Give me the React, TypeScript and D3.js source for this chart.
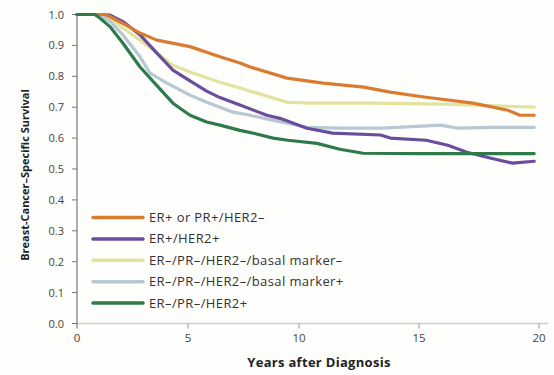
import React from "react";
import * as d3 from "d3";

type Pt = [number, number];

const seriesNames = [
  "ER+ or PR+/HER2–",
  "ER+/HER2+",
  "ER–/PR–/HER2–/basal marker–",
  "ER–/PR–/HER2–/basal marker+",
  "ER–/PR–/HER2+",
];
const seriesColors = ["#d97b30", "#6b4d9e", "#e2e39c", "#b7c7d3", "#2f7a4a"];

const orange: Pt[] = [[0,1],[1.3,1],[2.07,0.971],[2.84,0.94],[3.6,0.917],[5.09,0.896],[6.44,0.863],[7.34,0.843],[7.8,0.83],[9.46,0.794],[11,0.778],[12.7,0.765],[13.8,0.749],[15.2,0.733],[17.25,0.713],[18.7,0.69],[19.2,0.674],[19.8,0.674]];
const purple: Pt[] = [[0,1],[1.2,1],[1.49,0.998],[2.07,0.977],[2.84,0.934],[3.6,0.875],[4.32,0.82],[5.09,0.785],[5.84,0.752],[6.44,0.731],[7.34,0.707],[8.55,0.674],[9.14,0.664],[10.33,0.632],[11.4,0.616],[13.4,0.61],[13.8,0.6],[15.3,0.593],[16.2,0.577],[17,0.554],[18,0.535],[18.9,0.519],[19.8,0.525]];
const yellow: Pt[] = [[0,1],[1.1,1],[1.5,0.985],[2.07,0.956],[2.84,0.917],[3.6,0.875],[4.32,0.836],[5.09,0.814],[6.44,0.781],[7.34,0.762],[8.6,0.735],[9.46,0.716],[10.5,0.713],[13,0.713],[16,0.71],[18,0.705],[19.8,0.7]];
const gray: Pt[] = [[0,1],[1.0,1],[1.49,0.977],[2.07,0.934],[2.84,0.863],[3.29,0.81],[4.05,0.778],[5.09,0.739],[5.84,0.716],[6.44,0.7],[7.03,0.684],[7.8,0.674],[8.8,0.658],[10.33,0.635],[11.7,0.632],[13.5,0.632],[15.9,0.642],[16.6,0.632],[18,0.635],[19.8,0.635]];
const green: Pt[] = [[0,1],[0.8,1],[1.04,0.988],[1.49,0.96],[2.07,0.907],[2.84,0.83],[3.6,0.77],[4.32,0.713],[5.09,0.674],[5.84,0.652],[6.44,0.642],[7.34,0.625],[8.0,0.615],[8.83,0.6],[9.5,0.593],[10.75,0.583],[11.7,0.564],[12.67,0.551],[15,0.55],[19.8,0.55]];

const seriesData = [orange, purple, yellow, gray, green];
const drawOrder = [2, 3, 1, 0, 4];

const xTicks = [0, 5, 10, 15, 20];
const yTicks = [0, 0.1, 0.2, 0.3, 0.4, 0.5, 0.6, 0.7, 0.8, 0.9, 1.0];

export default function App() {
  const W = 554, H = 375;
  const x = d3.scaleLinear().domain([0, 10, 20]).range([77, 299, 539]);
  const y = d3.scaleLinear().domain([0, 1]).range([323.5, 14.5]);
  const line = d3.line<Pt>().x(d => x(d[0])).y(d => y(d[1])).curve(d3.curveLinear);
  const font = "'Open Sans', 'DejaVu Sans', sans-serif";
  const legendX0 = 93, legendX1 = 143, legendY0 = 217.5, legendStep = 21.4;

  return (
    <svg width={W} height={H} style={{ position: "absolute", left: 0, top: 0, background: "#fefefc" }}>
      <rect width={W} height={H} fill="#fefefc" />
      {/* x axis */}
      <line x1={77} x2={548} y1={y(0)} y2={y(0)} stroke="#cfcfcf" strokeWidth={1.5} />
      {xTicks.map(t => (
        <g key={"xt" + t}>
          {t > 0 && <line x1={x(t)} x2={x(t)} y1={y(0)} y2={y(0) + 5} stroke="#999" strokeWidth={1} />}
          <text x={x(t)} y={342} textAnchor="middle" fontFamily={font} fontSize={11.5} fill="#444">{t}</text>
        </g>
      ))}
      {/* y axis */}
      <line x1={77} x2={77} y1={y(1)} y2={y(0) + 5} stroke="#777" strokeWidth={1.2} />
      {yTicks.map(t => (
        <g key={"yt" + t}>
          <line x1={72} x2={77} y1={y(t)} y2={y(t)} stroke="#777" strokeWidth={1} />
          <text x={64} y={y(t) + 4} textAnchor="end" fontFamily={font} fontSize={11} fill="#444">{t.toFixed(1)}</text>
        </g>
      ))}
      {/* curves */}
      {drawOrder.map(i => (
        <path key={"s" + i} d={line(seriesData[i]) || ""} fill="none" stroke={seriesColors[i]} strokeWidth={3.2} strokeLinejoin="round" strokeLinecap="round" />
      ))}
      {/* legend */}
      {seriesNames.map((n, i) => (
        <g key={"lg" + i}>
          <line x1={legendX0} x2={legendX1} y1={legendY0 + i * legendStep} y2={legendY0 + i * legendStep} stroke={seriesColors[i]} strokeWidth={3.5} strokeLinecap="round" />
          <text x={149} y={legendY0 + i * legendStep + 4.5} fontFamily={font} fontSize={13} letterSpacing={0.4} fill="#333">{n}</text>
        </g>
      ))}
      {/* titles */}
      <text x={319} y={367} textAnchor="middle" fontFamily={font} fontSize={13} letterSpacing={0.3} fontWeight="bold" fill="#222">Years after Diagnosis</text>
      <text transform="translate(29,175) rotate(-90)" textAnchor="middle" fontFamily={font} fontSize={11} fontWeight="bold" fill="#222">Breast-Cancer–Specific Survival</text>
    </svg>
  );
}
